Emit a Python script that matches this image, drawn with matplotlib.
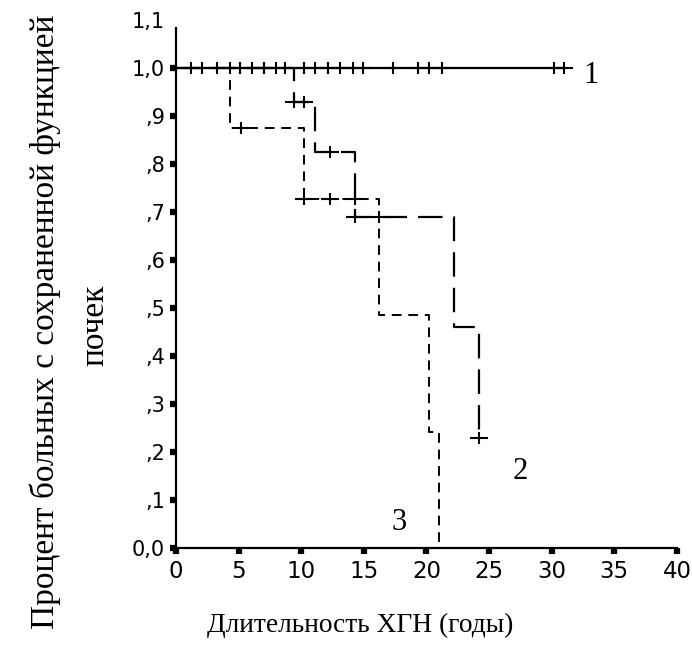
import matplotlib
matplotlib.use("Agg")
import matplotlib.pyplot as plt

# Kaplan-Meier curves (years, share with kidney function)
t1 = [0, 31.0]
s1 = [1.0, 1.0]
cens1 = [1.2, 2.1, 3.3, 4.3, 5.1, 6.1, 7.0, 8.0, 8.7, 10.2, 11.1, 12.1, 13.1,
         14.1, 14.9, 17.3, 19.3, 20.2, 21.2, 30.2, 31.0]

t2 = [0, 9.4, 11.1, 14.3, 22.2, 24.2]
s2 = [1.0, 0.93, 0.825, 0.69, 0.46, 0.23]
cens2_t = [9.4, 10.2, 12.3, 14.3, 16.2, 24.2]
cens2_s = [0.93, 0.93, 0.825, 0.69, 0.69, 0.23]

t3 = [0, 4.3, 10.2, 16.2, 20.2, 21.0]
s3 = [1.0, 0.875, 0.727, 0.485, 0.242, 0.0]
cens3_t = [5.2, 10.2, 12.3, 14.3]
cens3_s = [0.875, 0.727, 0.727, 0.727]

xticks = [0, 5, 10, 15, 20, 25, 30, 35, 40]
yticks = [0, 0.1, 0.2, 0.3, 0.4, 0.5, 0.6, 0.7, 0.8, 0.9, 1.0, 1.1]
ylabels = ['0,0', ',1', ',2', ',3', ',4', ',5', ',6', ',7', ',8', ',9', '1,0', '1,1']

serif = 'Liberation Serif'
sans = 'DejaVu Sans'

fig = plt.figure(figsize=(6.92, 6.54), dpi=100)
ax = fig.add_axes([0.2543, 0.1621, 0.724, 0.8073])

# curves: extend with the last value so the step reaches the end time
ax.step(t1, s1, where='post', color='black', lw=1.6)
ax.step(t2 + [t2[-1]], s2 + [s2[-1]], where='post', color='black', lw=1.6,
        linestyle=(0, (11, 5)))
ax.step(t3, s3, where='post', color='black', lw=1.4, linestyle=(0, (5, 3.5)))


def censor(x, y):
    # censoring mark: short vertical bar plus a short horizontal bar
    ax.plot(x, y, ls='none', marker='|', ms=9, mew=1.5, color='black')
    ax.plot(x, y, ls='none', marker='_', ms=13, mew=1.5, color='black')


censor(cens1, [1.0] * len(cens1))
censor(cens2_t, cens2_s)
censor(cens3_t, cens3_s)

ax.set_xlim(0, 40)
ax.set_ylim(0, 1.1)
ax.spines['top'].set_visible(False)
ax.spines['right'].set_visible(False)
ax.spines['left'].set_linewidth(1.6)
ax.spines['bottom'].set_linewidth(1.6)
ax.spines['left'].set_bounds(0, 1.083)

ax.set_xticks(xticks)
ax.set_xticklabels([str(v) for v in xticks], fontfamily=sans, fontsize=16.5)
ax.set_yticks(yticks)
ax.set_yticklabels(ylabels, fontfamily=sans, fontsize=15)
ax.tick_params(axis='both', direction='out', length=4, width=4.5, color='black')
ax.tick_params(axis='x', pad=5)
ax.tick_params(axis='y', pad=4)
ax.yaxis.get_major_ticks()[-1].tick1line.set_visible(False)

ax.text(33.1, 0.985, '1', fontfamily=serif, fontsize=22, ha='center', va='center')
ax.text(27.5, 0.16, '2', fontfamily=serif, fontsize=22, ha='center', va='center')
ax.text(17.8, 0.054, '3', fontfamily=serif, fontsize=22, ha='center', va='center')

fig.text(45 / 692, 1 - 322 / 654, 'Процент больных с сохраненной функцией',
         rotation=90, ha='center', va='center', fontfamily=serif, fontsize=24)
fig.text(95 / 692, 1 - 325 / 654, 'почек',
         rotation=90, ha='center', va='center', fontfamily=serif, fontsize=24)
fig.text(360 / 692, 1 - 625 / 654, 'Длительность ХГН (годы)',
         ha='center', va='center', fontfamily=serif, fontsize=19.7)

fig.savefig('out.png', dpi=100)
